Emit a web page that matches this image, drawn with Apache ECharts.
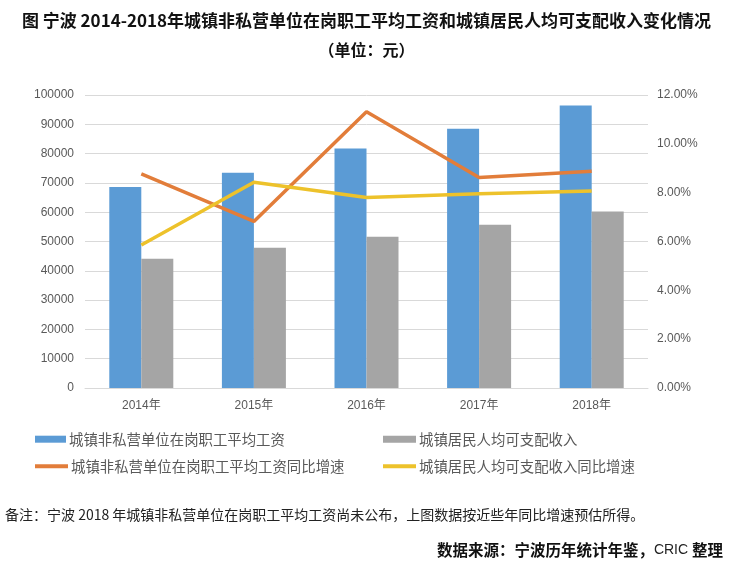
<!DOCTYPE html>
<html>
<head>
<meta charset="utf-8">
<script src="https://cdn.jsdelivr.net/npm/echarts@6/dist/echarts.min.js"></script>
<style>
html,body{margin:0;padding:0;background:#fff;}
#chart{width:733px;height:561px;}
</style>
</head>
<body>
<div id="chart"></div>
<script>
var categories = ['2014年', '2015年', '2016年', '2017年', '2018年'];
var wageValues = [68600, 73500, 81700, 88500, 96400];
var incomeValues = [44100, 47900, 51600, 55700, 60200];
var wageGrowth = [8.77, 6.82, 11.31, 8.62, 8.88];
var incomeGrowth = [5.86, 8.43, 7.80, 7.96, 8.07];
var leftTicks = { min: 0, max: 100000, interval: 10000 };
var rightTicks = { min: 0, max: 12, interval: 2 };
var names = ['城镇非私营单位在岗职工平均工资', '城镇居民人均可支配收入', '城镇非私营单位在岗职工平均工资同比增速', '城镇居民人均可支配收入同比增速'];

var FONT = '"Noto Sans CJK SC", sans-serif';
var AXFONT = '"Liberation Sans", "Noto Sans CJK SC", sans-serif';
var colors = ['#5B9BD5', '#A5A5A5', '#E27D3A', '#EDC22B'];

function legend(i, left, top, iw, ih) {
  return {
    data: [{ name: names[i], icon: 'rect' }],
    left: left, top: top, padding: 0,
    itemWidth: iw, itemHeight: ih, itemGap: 4,
    textStyle: { fontSize: 14.4, color: '#595959', fontFamily: FONT, padding: [0, 0, 0, -2] },
    selectedMode: false
  };
}

var chart = echarts.init(document.getElementById('chart'), null, { renderer: 'canvas' });
chart.setOption({
  backgroundColor: '#fff',
  animation: false,
  color: colors,
  title: [
    { text: '图 宁波 2014-2018年城镇非私营单位在岗职工平均工资和城镇居民人均可支配收入变化情况',
      left: 'center', top: 7,
      textStyle: { fontSize: 17, fontWeight: 'bold', color: '#111', fontFamily: FONT } },
    { text: '（单位：元）', left: 'center', top: 37,
      textStyle: { fontSize: 16, fontWeight: 'bold', color: '#111', fontFamily: FONT } },
    { text: '备注：宁波 2018 年城镇非私营单位在岗职工平均工资尚未公布，上图数据按近些年同比增速预估所得。',
      left: 0, top: 503,
      textStyle: { fontSize: 14, fontWeight: 'normal', color: '#222', fontFamily: FONT } },
    { text: '{b|数据来源：宁波历年统计年鉴，}{c|CRIC }{b|整理}', right: 5, top: 537,
      textStyle: { rich: {
        b: { fontSize: 15.5, fontWeight: 'bold', color: '#111', fontFamily: FONT },
        c: { fontSize: 14, fontWeight: 'normal', color: '#222', fontFamily: AXFONT }
      } } }
  ],
  legend: [
    legend(0, 35, 432, 31, 7),
    legend(1, 383, 432, 33, 7),
    legend(2, 35, 459, 33, 4),
    legend(3, 383, 459, 33, 4)
  ],
  grid: { left: 85, right: 85, top: 95, bottom: 173, containLabel: false },
  xAxis: {
    type: 'category', data: categories,
    axisLine: { lineStyle: { color: '#D9D9D9' } },
    axisTick: { show: false },
    axisLabel: { color: '#595959', fontSize: 12, fontFamily: AXFONT, margin: 12 }
  },
  yAxis: [
    { type: 'value', min: leftTicks.min, max: leftTicks.max, interval: leftTicks.interval,
      axisLine: { show: false }, axisTick: { show: false },
      axisLabel: { color: '#595959', fontSize: 12, fontFamily: AXFONT, margin: 11,
        formatter: function (v) { return String(v); } },
      splitLine: { lineStyle: { color: '#D9D9D9', width: 1 } } },
    { type: 'value', min: rightTicks.min, max: rightTicks.max, interval: rightTicks.interval,
      position: 'right',
      axisLine: { show: false }, axisTick: { show: false },
      axisLabel: { color: '#595959', fontSize: 12, fontFamily: AXFONT, margin: 9,
        formatter: function (v) { return v.toFixed(2) + '%'; } },
      splitLine: { show: false } }
  ],
  series: [
    { name: names[0], type: 'bar', data: wageValues, barWidth: 32, barGap: '0%',
      itemStyle: { color: colors[0] } },
    { name: names[1], type: 'bar', data: incomeValues, barWidth: 32, barGap: '0%',
      itemStyle: { color: colors[1] } },
    { name: names[2], type: 'line', yAxisIndex: 1, data: wageGrowth, symbol: 'none',
      lineStyle: { color: colors[2], width: 3.5 }, itemStyle: { color: colors[2] }, z: 5 },
    { name: names[3], type: 'line', yAxisIndex: 1, data: incomeGrowth, symbol: 'none',
      lineStyle: { color: colors[3], width: 3.5 }, itemStyle: { color: colors[3] }, z: 6 }
  ]
});
</script>
</body>
</html>
